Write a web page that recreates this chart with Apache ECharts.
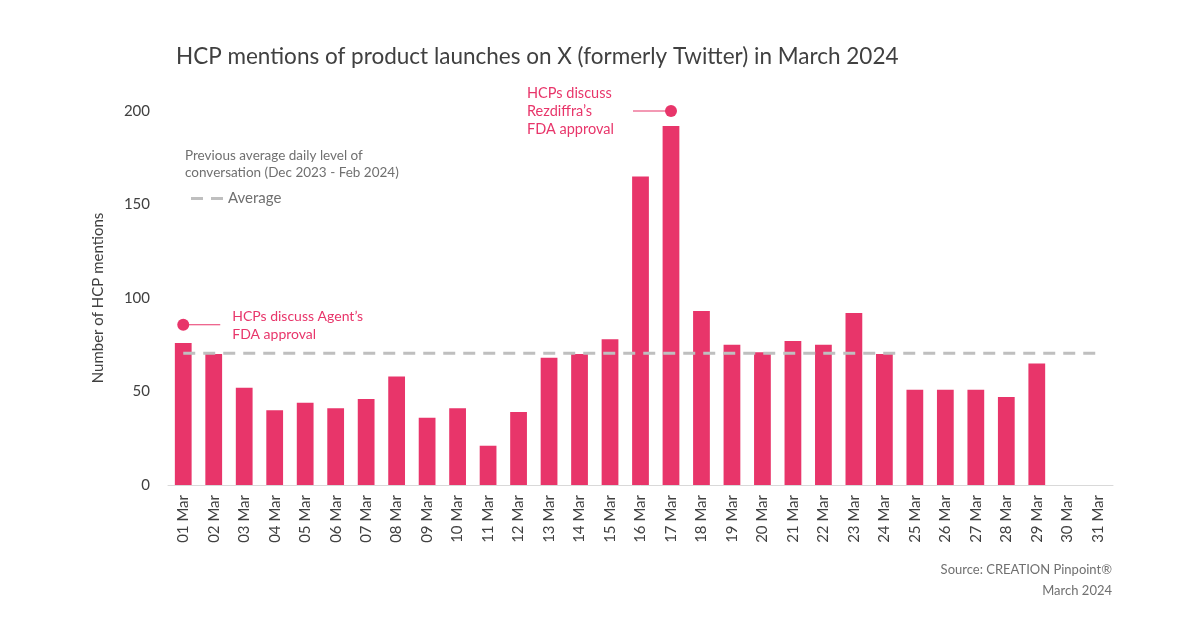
<!DOCTYPE html>
<html>
<head>
<meta charset="utf-8">
<script src="https://cdn.jsdelivr.net/npm/echarts@6/dist/echarts.min.js"></script>
<style>
html,body{margin:0;padding:0;background:#fff;}
#chart{width:1200px;height:630px;}
</style>
</head>
<body>
<div id="chart"></div>
<script>
const categories = ['01 Mar','02 Mar','03 Mar','04 Mar','05 Mar','06 Mar','07 Mar','08 Mar','09 Mar','10 Mar','11 Mar','12 Mar','13 Mar','14 Mar','15 Mar','16 Mar','17 Mar','18 Mar','19 Mar','20 Mar','21 Mar','22 Mar','23 Mar','24 Mar','25 Mar','26 Mar','27 Mar','28 Mar','29 Mar','30 Mar','31 Mar'];
const mentions = [76,70,52,40,44,41,46,58,36,41,21,39,68,70,78,165,192,93,75,71,77,75,92,70,51,51,51,47,65,0,0];
const averageLevel = 70.4;
const yTicks = [0,50,100,150,200];
const annotations = [
  {cat: 0, value: 85.7, lines: ['HCPs discuss Agent\u2019s','FDA approval']},
  {cat: 16, value: 200, lines: ['HCPs discuss','Rezdiffra\u2019s','FDA approval']}
];

const PINK = '#E8356A';
const FONT = 'Lato, "Open Sans", sans-serif';
const chart = echarts.init(document.getElementById('chart'));

chart.setOption({
  backgroundColor: '#fff',
  animation: false,
  textStyle: {fontFamily: FONT},
  title: [
    {text: 'HCP mentions of product launches on X (formerly Twitter) in March 2024', left: 171, top: 40,
     textStyle: {fontFamily: FONT, fontSize: 22.5, fontWeight: 'normal', color: '#404040'}},
    {text: 'Previous average daily level of\nconversation (Dec 2023 - Feb 2024)', left: 180, top: 142,
     textStyle: {fontFamily: FONT, fontSize: 13.5, fontWeight: 'normal', color: '#707070', lineHeight: 17}}
  ],
  legend: {
    data: [{name: 'Average', icon: 'path://M0,0h12v3h-12zM20,0h12v3h-12z'}], left: 186, top: 186, itemWidth: 32, itemHeight: 3, itemGap: 6,
    textStyle: {fontFamily: FONT, fontSize: 15, color: '#707070'}
  },
  grid: {left: 168, right: 87, top: 111, bottom: 145},
  xAxis: {
    type: 'category', data: categories,
    axisLine: {lineStyle: {color: '#D9D9D9', width: 1}},
    axisTick: {show: false},
    axisLabel: {rotate: 90, interval: 0, margin: 10, fontSize: 15, color: '#404040', fontFamily: FONT}
  },
  yAxis: {
    type: 'value', min: yTicks[0], max: yTicks[yTicks.length-1], interval: 50,
    axisLine: {show: false}, axisTick: {show: false}, splitLine: {show: false},
    axisLabel: {fontSize: 15, color: '#404040', margin: 18, fontFamily: FONT},
    name: 'Number of HCP mentions', nameLocation: 'middle', nameGap: 62, nameRotate: 90,
    nameTextStyle: {fontSize: 15, color: '#404040', fontFamily: FONT}
  },
  series: [
    {name: 'Mentions', type: 'bar', data: mentions, barWidth: '55%', itemStyle: {color: PINK}},
    {name: 'Average', type: 'line', data: categories.map(() => averageLevel), symbol: 'none', z: 5,
     lineStyle: {color: '#BFBFBF', width: 3, type: [12, 8]}, itemStyle: {color: '#BFBFBF'}}
  ]
});

function drawAnnotations(){
  const els = [];
  annotations.forEach((a, i) => {
    const p = chart.convertToPixel({xAxisIndex: 0, yAxisIndex: 0}, [a.cat, a.value]);
    els.push({type: 'circle', shape: {cx: p[0], cy: p[1], r: 6}, style: {fill: PINK}, z: 10});
    if (i === 0) {
      els.push({type: 'line', shape: {x1: p[0], y1: p[1], x2: p[0] + 37, y2: p[1]}, style: {stroke: PINK, lineWidth: 1.2}, z: 10});
      els.push({type: 'text', x: p[0] + 49, y: p[1] - 17, style: {text: a.lines.join('\n'), fill: PINK, font: '14px ' + FONT, lineHeight: 18, textVerticalAlign: 'top'}, z: 10});
    } else {
      els.push({type: 'line', shape: {x1: p[0] - 38, y1: p[1], x2: p[0], y2: p[1]}, style: {stroke: PINK, lineWidth: 1.2}, z: 10});
      els.push({type: 'text', x: p[0] - 144, y: p[1] - 27, style: {text: a.lines.join('\n'), fill: PINK, font: '14.5px ' + FONT, lineHeight: 18, textVerticalAlign: 'top'}, z: 10});
    }
  });
  els.push({type: 'text', right: 88, top: 559, style: {text: 'Source: CREATION Pinpoint\u00AE\nMarch 2024', fill: '#707070', font: '13px ' + FONT, lineHeight: 21, textAlign: 'right'}});
  chart.setOption({graphic: {elements: els}});
}
drawAnnotations();
</script>
</body>
</html>
